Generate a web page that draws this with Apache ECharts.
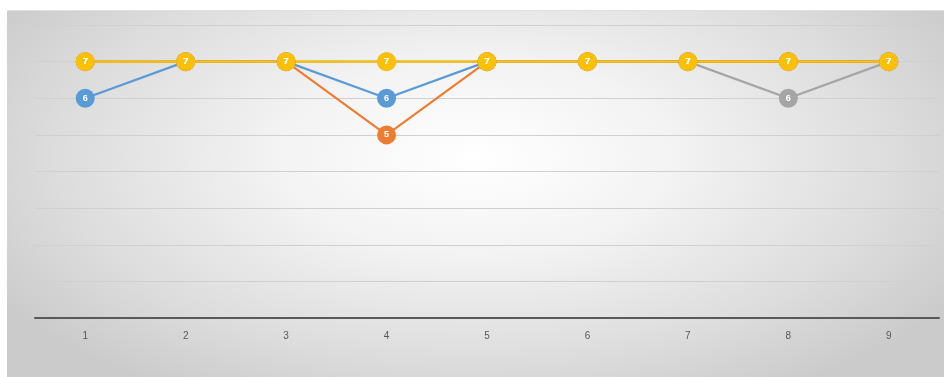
<!DOCTYPE html>
<html>
<head>
<meta charset="utf-8">
<script src="https://cdn.jsdelivr.net/npm/echarts@6/dist/echarts.min.js"></script>
<style>
html,body{margin:0;padding:0;background:#fff;}
#bg{position:absolute;left:7px;top:10px;width:937px;height:367px;
background:radial-gradient(ellipse 60% 75% at 50% 40%, #ffffff 0%, #f3f3f3 35%, #dcdcdc 75%, #cbcbcb 100%);
border-top:1px solid #e0e0e0;box-sizing:border-box;}
#chart{position:absolute;left:0;top:0;width:944px;height:377px;}
</style>
</head>
<body>
<div id="bg"></div>
<div id="chart"></div>
<script>
const categories = ['1','2','3','4','5','6','7','8','9'];
const blueValues   = [6,7,7,6,7,7,7,7,7];
const orangeValues = [7,7,7,5,7,7,7,7,7];
const grayValues   = [7,7,7,7,7,7,7,6,7];
const yellowValues = [7,7,7,7,7,7,7,7,7];

function mk(name, data, color){
  return {
    name, type:'line', data,
    symbol:'circle', symbolSize:19,
    lineStyle:{color, width:2.2},
    itemStyle:{color, borderColor:color, borderWidth:0, opacity:1},
    label:{show:true, position:'inside', color:'#ffffff', fontSize:9, fontWeight:'bold', fontFamily:'Liberation Sans'},
    emphasis:{disabled:true},
    animation:false
  };
}

const chart = echarts.init(document.getElementById('chart'));
chart.setOption({
  backgroundColor:'transparent',
  animation:false,
  grid:{left:35, right:5, top:25, bottom:59, containLabel:false},
  xAxis:{
    type:'category', data:categories, boundaryGap:true,
    axisLine:{lineStyle:{color:'#595959', width:2}},
    axisTick:{show:false},
    axisLabel:{color:'#595959', fontSize:10, margin:13, fontFamily:'Liberation Sans'}
  },
  yAxis:{
    type:'value', min:0, max:8, interval:1,
    axisLine:{show:false}, axisTick:{show:false}, axisLabel:{show:false},
    splitLine:{lineStyle:{color:'#d0d0d0', width:1}}
  },
  series:[
    mk('Series1', blueValues, '#5B9BD5'),
    mk('Series2', orangeValues, '#ED7D31'),
    mk('Series3', grayValues, '#A5A5A5'),
    mk('Series4', yellowValues, '#FFC000')
  ]
});
</script>
</body>
</html>
